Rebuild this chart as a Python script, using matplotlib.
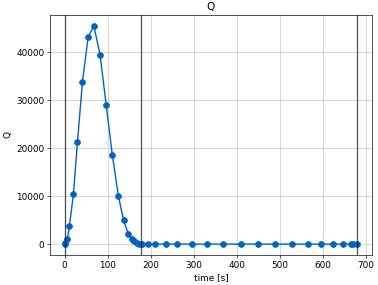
import numpy as np
import matplotlib
matplotlib.use("Agg")
import matplotlib.pyplot as plt

# time points and Q values
time = [0, 2, 6.5, 11.2, 20.5, 29.8, 41.4, 54.7, 68, 82.6, 96.5, 111, 125, 137,
        148, 157, 162, 168, 174, 179, 194, 211, 235, 262, 296, 332, 369, 410,
        450, 490, 529, 565, 597, 625, 648, 666, 672, 681]
Q = [0, 250, 1040, 3800, 10450, 21200, 33800, 43150, 45480, 39380, 29080, 18540,
     10060, 5000, 2150, 1040, 620, 330, 120, 0, 0, 0, 0, 0, 0, 0, 0, 0,
     0, 0, 0, 0, 0, 0, 0, 0, 0, 0]
vlines = [0, 177, 680]

plt.rcParams["font.size"] = 10.8

fig = plt.figure(figsize=(378 / 59, 285 / 59), dpi=59)
ax = fig.add_axes([50 / 378, 1 - 255 / 285, 322 / 378, 240 / 285])

ax.plot(time, Q, "o-", color="#0063c4", lw=1.7, ms=7)
for v in vlines:
    ax.axvline(v, color="k", alpha=0.65, lw=1.6)
ax.grid(True, alpha=0.5, lw=1.2)
ax.set_title("Q")
ax.set_ylabel("Q")
ax.set_xlabel("time [s]")

fig.savefig("out.png", dpi=59)
